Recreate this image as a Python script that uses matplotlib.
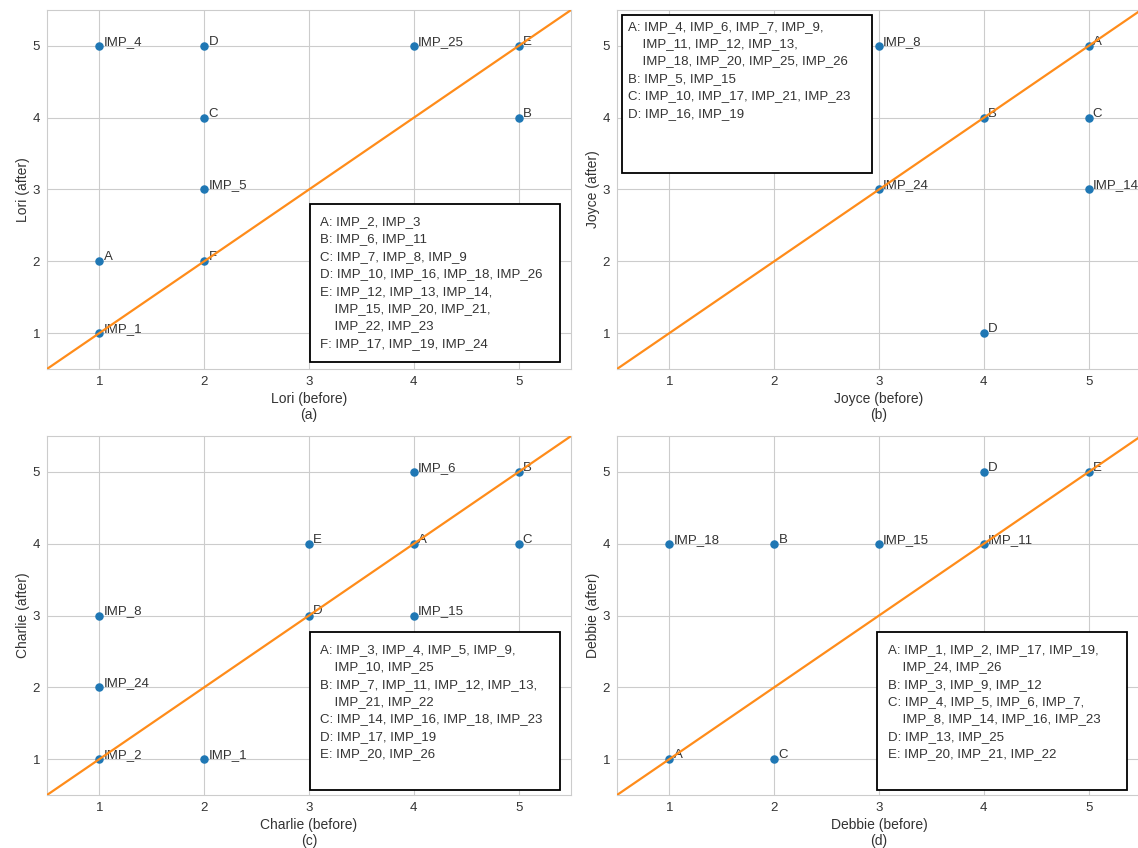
import matplotlib.pyplot as plt
import seaborn as sns
from matplotlib.patches import Rectangle

sns.set_style('whitegrid')
plt.rcParams['font.family'] = ['Liberation Sans', 'DejaVu Sans']

# (a) Lori
lori_x = [1, 2, 4, 5, 2, 5, 2, 1, 2, 1]
lori_y = [5, 5, 5, 5, 4, 4, 3, 2, 2, 1]
lori_lab = ['IMP_4', 'D', 'IMP_25', 'E', 'C', 'B', 'IMP_5', 'A', 'F', 'IMP_1']
lori_key = ['A: IMP_2, IMP_3',
            'B: IMP_6, IMP_11',
            'C: IMP_7, IMP_8, IMP_9',
            'D: IMP_10, IMP_16, IMP_18, IMP_26',
            'E: IMP_12, IMP_13, IMP_14,\n    IMP_15, IMP_20, IMP_21,\n    IMP_22, IMP_23',
            'F: IMP_17, IMP_19, IMP_24']

# (b) Joyce
joyce_x = [3, 5, 4, 5, 3, 5, 4]
joyce_y = [5, 5, 4, 4, 3, 3, 1]
joyce_lab = ['IMP_8', 'A', 'B', 'C', 'IMP_24', 'IMP_14', 'D']
joyce_key = ['A: IMP_4, IMP_6, IMP_7, IMP_9,\n    IMP_11, IMP_12, IMP_13,\n    IMP_18, IMP_20, IMP_25, IMP_26',
             'B: IMP_5, IMP_15',
             'C: IMP_10, IMP_17, IMP_21, IMP_23',
             'D: IMP_16, IMP_19']

# (c) Charlie
charlie_x = [4, 5, 3, 4, 5, 1, 3, 4, 1, 1, 2]
charlie_y = [5, 5, 4, 4, 4, 3, 3, 3, 2, 1, 1]
charlie_lab = ['IMP_6', 'B', 'E', 'A', 'C', 'IMP_8', 'D', 'IMP_15', 'IMP_24', 'IMP_2', 'IMP_1']
charlie_key = ['A: IMP_3, IMP_4, IMP_5, IMP_9,\n    IMP_10, IMP_25',
               'B: IMP_7, IMP_11, IMP_12, IMP_13,\n    IMP_21, IMP_22',
               'C: IMP_14, IMP_16, IMP_18, IMP_23',
               'D: IMP_17, IMP_19',
               'E: IMP_20, IMP_26']

# (d) Debbie
debbie_x = [4, 5, 1, 2, 3, 4, 1, 2]
debbie_y = [5, 5, 4, 4, 4, 4, 1, 1]
debbie_lab = ['D', 'E', 'IMP_18', 'B', 'IMP_15', 'IMP_11', 'A', 'C']
debbie_key = ['A: IMP_1, IMP_2, IMP_17, IMP_19,\n    IMP_24, IMP_26',
              'B: IMP_3, IMP_9, IMP_12',
              'C: IMP_4, IMP_5, IMP_6, IMP_7,\n    IMP_8, IMP_14, IMP_16, IMP_23',
              'D: IMP_13, IMP_25',
              'E: IMP_20, IMP_21, IMP_22']

# box corner (axes fraction) and text inset (dx, dy) for each key
panels = [
    ('Lori', '(a)', lori_x, lori_y, lori_lab, lori_key, (0.502, 0.019), (0.019, 0.033)),
    ('Joyce', '(b)', joyce_x, joyce_y, joyce_lab, joyce_key, (0.010, 0.546), (0.010, 0.016)),
    ('Charlie', '(c)', charlie_x, charlie_y, charlie_lab, charlie_key, (0.502, 0.014), (0.019, 0.033)),
    ('Debbie', '(d)', debbie_x, debbie_y, debbie_lab, debbie_key, (0.496, 0.014), (0.021, 0.033)),
]

fig = plt.figure(figsize=(11.38, 8.48), dpi=100)
positions = [(0.0413, 0.5649), (0.5422, 0.5649), (0.0413, 0.0625), (0.5422, 0.0625)]
fs = 9.5
txt = '#333333'

for (name, tag, xs, ys, labs, key, box, inset), (l, b) in zip(panels, positions):
    ax = fig.add_axes([l, b, 0.4605, 0.4233])
    ax.scatter(xs, ys, s=26, color='#1f77b4', zorder=2)
    for x, y, t in zip(xs, ys, labs):
        ax.text(x + 0.04, y + 0.015, t, fontsize=fs, color=txt, zorder=1.5)
    ax.plot([0.5, 5.5], [0.5, 5.5], color='#ff8c1a', lw=1.6, zorder=3)
    ax.set_xlim(0.5, 5.5)
    ax.set_ylim(0.5, 5.5)
    ax.set_xticks([1, 2, 3, 4, 5])
    ax.set_yticks([1, 2, 3, 4, 5])
    ax.tick_params(labelsize=fs, colors=txt, pad=1.5)
    ax.set_xlabel(f'{name} (before)\n{tag}', fontsize=fs + 0.5, color=txt,
                  labelpad=3, linespacing=1.15)
    ax.set_ylabel(f'{name} (after)', fontsize=fs + 0.5, color=txt, labelpad=2)
    bx, by = box
    dx, dy = inset
    ax.add_patch(Rectangle((bx, by), 0.477, 0.44, transform=ax.transAxes,
                           facecolor='white', edgecolor='black', lw=1.3, zorder=4))
    ax.text(bx + dx, by + 0.44 - dy, '\n'.join(key), transform=ax.transAxes,
            va='top', ha='left', fontsize=fs, linespacing=1.6, color=txt, zorder=5)

fig.savefig('out.png', dpi=100)
